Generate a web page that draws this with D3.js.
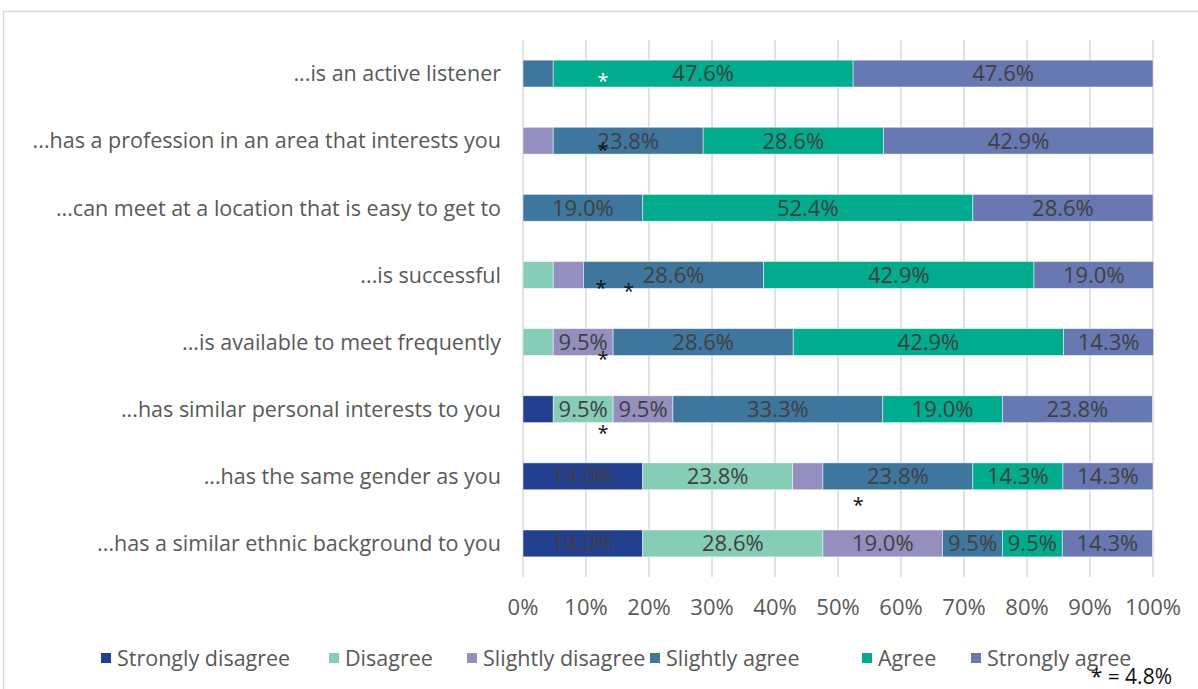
<!DOCTYPE html>
<html>
<head>
<meta charset="utf-8">
<script src="https://cdn.jsdelivr.net/npm/d3@7"></script>
<style>
  html, body { margin: 0; padding: 0; background: #fff; }
  svg { display: block; font-family: "Open Sans", "Liberation Sans", Arial, sans-serif; }
</style>
</head>
<body>
<svg id="chart" width="1198" height="689"></svg>
<script>
// Mentor attributes, top to bottom
const categories = [
  "...is an active listener",
  "...has a profession in an area that interests you",
  "...can meet at a location that is easy  to get to",
  "...is successful",
  "...is available to meet frequently",
  "...has similar personal interests to you",
  "...has the same gender as you",
  "...has a similar ethnic background to you"
];

const seriesNames = ["Strongly disagree", "Disagree", "Slightly disagree", "Slightly agree", "Agree", "Strongly agree"];

// Percentages per category, one array per response level
const stronglyDisagree = [0, 0, 0, 0, 0, 4.8, 19.0, 19.0];
const disagree         = [0, 0, 0, 4.8, 4.8, 9.5, 23.8, 28.6];
const slightlyDisagree = [0, 4.8, 0, 4.8, 9.5, 9.5, 4.8, 19.0];
const slightlyAgree    = [4.8, 23.8, 19.0, 28.6, 28.6, 33.3, 23.8, 9.5];
const agree            = [47.6, 28.6, 52.4, 42.9, 42.9, 19.0, 14.3, 9.5];
const stronglyAgree    = [47.6, 42.9, 28.6, 19.0, 14.3, 23.8, 14.3, 14.3];

const seriesColors = ["#233f8f", "#86cdb8", "#948fbf", "#3e769e", "#00ab8e", "#6878b2"];

const tickValues = [0, 10, 20, 30, 40, 50, 60, 70, 80, 90, 100];

// Asterisk notes marking the unlabeled 4.8% segments: [row, x in %, vertical offset, colour]
const noteRows   = [0, 1, 3, 3, 4, 5, 6];
const noteX      = [12.7, 12.7, 12.4, 16.8, 12.7, 12.7, 53.2];
const noteOffset = [7, 9, 13, 16, 17, 24, 28];
const noteColors = ["#ffffff", "#111111", "#111111", "#111111", "#111111", "#111111", "#111111"];

const footnote = "* = 4.8%";

const seriesValues = [stronglyDisagree, disagree, slightlyDisagree, slightlyAgree, agree, stronglyAgree];

const svg = d3.select("#chart");
const W = 1198, H = 689;

// Outer chart frame
svg.append("path")
  .attr("d", `M3.5,${H} V11.5 H${W}`)
  .attr("fill", "none")
  .attr("stroke", "#d9d9d9")
  .attr("stroke-width", 1.5);

const x = d3.scaleLinear().domain([0, 100]).range([523, 1153]);
const y = d3.scaleBand().domain(categories).range([40, 577]).paddingInner(0.6).paddingOuter(0.3);

// Vertical gridlines
svg.append("g")
  .selectAll("line")
  .data(tickValues)
  .join("line")
  .attr("x1", d => x(d)).attr("x2", d => x(d))
  .attr("y1", 40).attr("y2", 577)
  .attr("stroke", "#d9d9d9")
  .attr("stroke-width", 1.5);

// Stacked rows
const rows = categories.map((c, i) => {
  let acc = 0;
  return seriesValues.map((vals, s) => {
    const seg = { cat: c, s, v: vals[i], x0: acc, x1: acc + vals[i] };
    acc += vals[i];
    return seg;
  });
}).flat().filter(d => d.v > 0);

svg.append("g")
  .selectAll("rect")
  .data(rows)
  .join("rect")
  .attr("x", d => x(d.x0))
  .attr("y", d => y(d.cat))
  .attr("width", d => x(d.x1) - x(d.x0))
  .attr("height", y.bandwidth())
  .attr("fill", d => seriesColors[d.s])
  .attr("stroke", "#ffffff")
  .attr("stroke-opacity", 0.6)
  .attr("stroke-width", 0.8);

// Value labels for segments larger than 4.8%
svg.append("g")
  .selectAll("text")
  .data(rows.filter(d => d.v > 5))
  .join("text")
  .attr("x", d => (x(d.x0) + x(d.x1)) / 2)
  .attr("y", d => y(d.cat) + y.bandwidth() / 2)
  .attr("dy", "0.36em")
  .attr("text-anchor", "middle")
  .attr("font-size", 22)
  .attr("fill", "#404040")
  .text(d => d.v.toFixed(1) + "%");

// Category labels
svg.append("g")
  .selectAll("text")
  .data(categories)
  .join("text")
  .attr("x", 501)
  .attr("y", d => y(d) + y.bandwidth() / 2)
  .attr("dy", "0.36em")
  .attr("text-anchor", "end")
  .attr("font-size", 21.5)
  .attr("fill", "#595959")
  .text(d => d);

// Axis tick labels
svg.append("g")
  .selectAll("text")
  .data(tickValues)
  .join("text")
  .attr("x", d => x(d))
  .attr("y", 607)
  .attr("dy", "0.36em")
  .attr("text-anchor", "middle")
  .attr("font-size", 22)
  .attr("fill", "#595959")
  .text(d => d + "%");

// Asterisk notes
svg.append("g")
  .selectAll("text")
  .data(noteRows.map((r, i) => ({ r, xv: noteX[i], off: noteOffset[i], c: noteColors[i] })))
  .join("text")
  .attr("x", d => x(d.xv))
  .attr("y", d => y(categories[d.r]) + y.bandwidth() / 2 + d.off)
  .attr("dy", "0.36em")
  .attr("text-anchor", "middle")
  .attr("font-size", 20)
  .attr("fill", d => d.c)
  .text("*");

// Legend
const legendX = [101, 329, 467, 650, 862, 971];
const legend = svg.append("g")
  .selectAll("g")
  .data(seriesNames)
  .join("g")
  .attr("transform", (d, i) => `translate(${legendX[i]},658)`);
legend.append("rect")
  .attr("x", 0).attr("y", -5)
  .attr("width", 10).attr("height", 10)
  .attr("fill", (d, i) => seriesColors[i]);
legend.append("text")
  .attr("x", 16)
  .attr("dy", "0.36em")
  .attr("font-size", 21.5)
  .attr("fill", "#595959")
  .text(d => d);

// Footnote
svg.append("text")
  .attr("x", 1172)
  .attr("y", 684)
  .attr("text-anchor", "end")
  .attr("font-size", 21)
  .attr("fill", "#111111")
  .text(footnote);
</script>
</body>
</html>
